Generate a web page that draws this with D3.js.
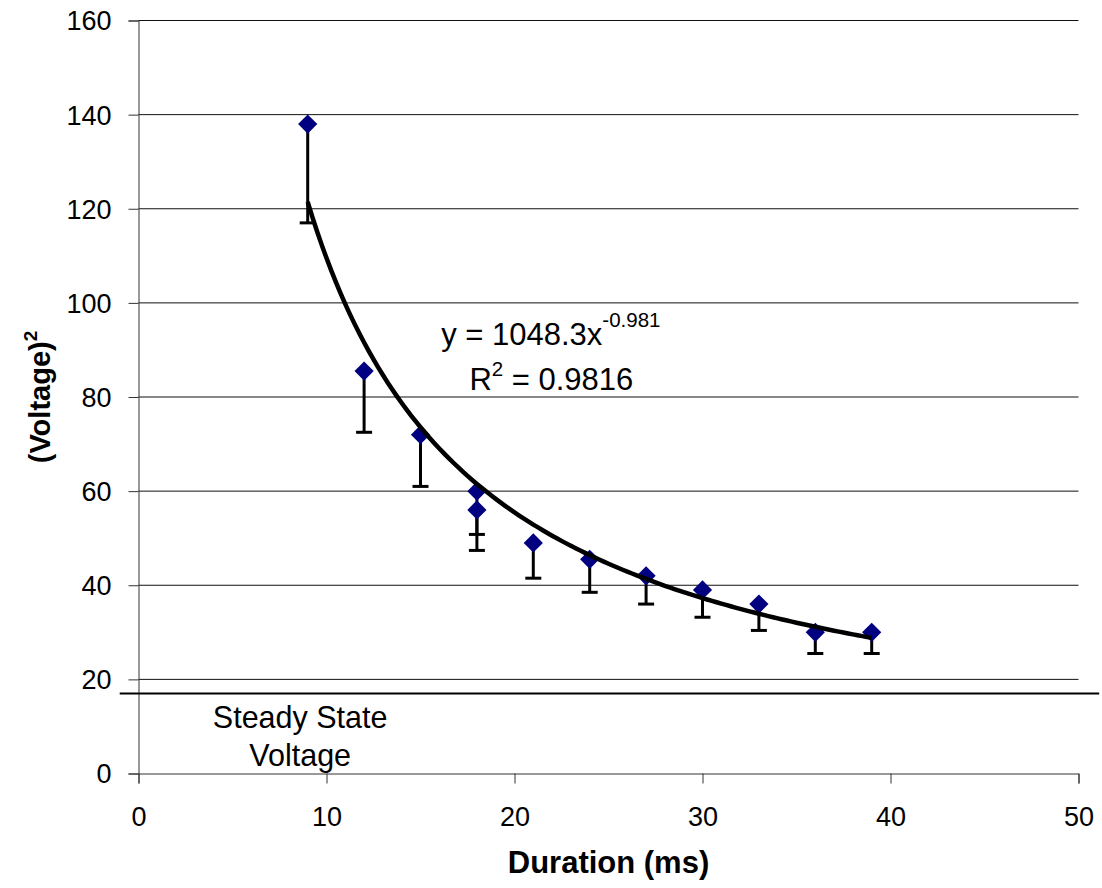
<!DOCTYPE html>
<html>
<head>
<meta charset="utf-8">
<script src="https://cdn.jsdelivr.net/npm/d3@7"></script>
<style>
  body { margin: 0; background: #fff; }
  text { font-family: "Liberation Sans", Arial, sans-serif; fill: #000; }
</style>
</head>
<body>
<div id="chart"></div>
<script>
// measured points (duration ms, voltage^2) and lower error bar ends
const durations = [9, 12, 15, 18, 18, 21, 24, 27, 30, 33, 36, 39];
const voltSq    = [138, 85.5, 72, 60, 56, 49, 45.5, 42, 39, 36, 30, 30];
const errLow    = [117, 72.5, 61, 50.8, 47.4, 41.5, 38.5, 36, 33.2, 30.4, 25.5, 25.5];

// power trendline from the chart label
const fitA = 1048.3;
const fitB = -0.981;
const fitRange = [9, 39];

const steadyState = 17;
const xTicks = [0, 10, 20, 30, 40, 50];
const yTicks = [0, 20, 40, 60, 80, 100, 120, 140, 160];

const width = 1102, height = 888;
const margin = { left: 138.5, right: 23.5, top: 20.5, bottom: 114.5 };

const svg = d3.select('#chart').append('svg')
    .attr('width', width)
    .attr('height', height);

const x = d3.scaleLinear().domain([0, 50]).range([margin.left, width - margin.right]);
const y = d3.scaleLinear().domain([0, 160]).range([height - margin.bottom, margin.top]);

// gridlines
svg.append('g')
    .selectAll('line')
    .data(yTicks.filter(d => d > 0))
    .enter()
    .append('line')
    .attr('x1', x(0))
    .attr('x2', x(50))
    .attr('y1', d => y(d))
    .attr('y2', d => y(d))
    .attr('stroke', '#111')
    .attr('stroke-width', 1);

// axes
const yAxis = svg.append('g')
    .attr('transform', `translate(${x(0)},0)`)
    .call(d3.axisLeft(y).tickValues(yTicks).tickSize(10).tickPadding(17));
const xAxis = svg.append('g')
    .attr('transform', `translate(0,${y(0)})`)
    .call(d3.axisBottom(x).tickValues(xTicks).tickSize(10).tickPadding(23));

[xAxis, yAxis].forEach(a => {
    a.select('.domain').attr('stroke', '#333').attr('stroke-width', 1);
    a.selectAll('.tick line').attr('stroke', '#333');
    a.selectAll('.tick text')
        .style('font-family', '"Liberation Sans", Arial, sans-serif')
        .style('font-size', '27px')
        .attr('fill', '#000');
});
yAxis.selectAll('.tick text').attr('dy', '0.35em');

// steady state line
svg.append('line')
    .attr('x1', x(-1))
    .attr('x2', x(51.1))
    .attr('y1', y(steadyState))
    .attr('y2', y(steadyState))
    .attr('stroke', '#000')
    .attr('stroke-width', 2);

svg.append('text')
    .attr('x', x(8.6))
    .attr('y', y(steadyState) + 35)
    .attr('text-anchor', 'middle')
    .style('font-size', '30.5px')
    .text('Steady State');
svg.append('text')
    .attr('x', x(8.6))
    .attr('y', y(steadyState) + 73)
    .attr('text-anchor', 'middle')
    .style('font-size', '30.5px')
    .text('Voltage');

const points = durations.map((d, i) => ({ x: d, y: voltSq[i], lo: errLow[i] }));

// error bars
const eb = svg.append('g');
eb.selectAll('line.stem')
    .data(points)
    .enter()
    .append('line')
    .attr('class', 'stem')
    .attr('x1', d => x(d.x))
    .attr('x2', d => x(d.x))
    .attr('y1', d => y(d.y))
    .attr('y2', d => y(d.lo))
    .attr('stroke', '#000')
    .attr('stroke-width', 3);
eb.selectAll('line.cap')
    .data(points)
    .enter()
    .append('line')
    .attr('class', 'cap')
    .attr('x1', d => x(d.x) - 8)
    .attr('x2', d => x(d.x) + 8)
    .attr('y1', d => y(d.lo))
    .attr('y2', d => y(d.lo))
    .attr('stroke', '#000')
    .attr('stroke-width', 3);

// markers
svg.append('g')
    .selectAll('path')
    .data(points)
    .enter()
    .append('path')
    .attr('d', d3.symbol().type(d3.symbolDiamond2).size(235))
    .attr('transform', d => `translate(${x(d.x)},${y(d.y)})`)
    .attr('fill', '#000080');

// trendline
const fitXs = d3.range(fitRange[0], fitRange[1] + 0.001, 0.25);
svg.append('path')
    .datum(fitXs)
    .attr('fill', 'none')
    .attr('stroke', '#000')
    .attr('stroke-width', 4.5)
    .attr('d', d3.line().x(d => x(d)).y(d => y(fitA * Math.pow(d, fitB))));

// equation label
const eq = svg.append('text')
    .attr('x', x(16.1))
    .attr('y', y(91))
    .style('font-size', '31px');
eq.append('tspan').text('y = 1048.3x');
eq.append('tspan').attr('dy', -18).style('font-size', '20.5px').text('-0.981');

const r2 = svg.append('text')
    .attr('x', x(17.6))
    .attr('y', y(81.5))
    .style('font-size', '31px');
r2.append('tspan').text('R');
r2.append('tspan').attr('dy', -14).style('font-size', '20.5px').text('2');
r2.append('tspan').attr('dy', 14).text(' = 0.9816');

// axis titles
svg.append('text')
    .attr('x', x(25))
    .attr('y', 873)
    .attr('text-anchor', 'middle')
    .style('font-size', '31px')
    .style('font-weight', 'bold')
    .text('Duration (ms)');

const yt = svg.append('text')
    .attr('transform', `translate(50,${y(80)}) rotate(-90)`)
    .attr('text-anchor', 'middle')
    .style('font-size', '29px')
    .style('font-weight', 'bold');
yt.append('tspan').text('(Voltage)');
yt.append('tspan').attr('dy', -13).style('font-size', '19px').text('2');
</script>
</body>
</html>
